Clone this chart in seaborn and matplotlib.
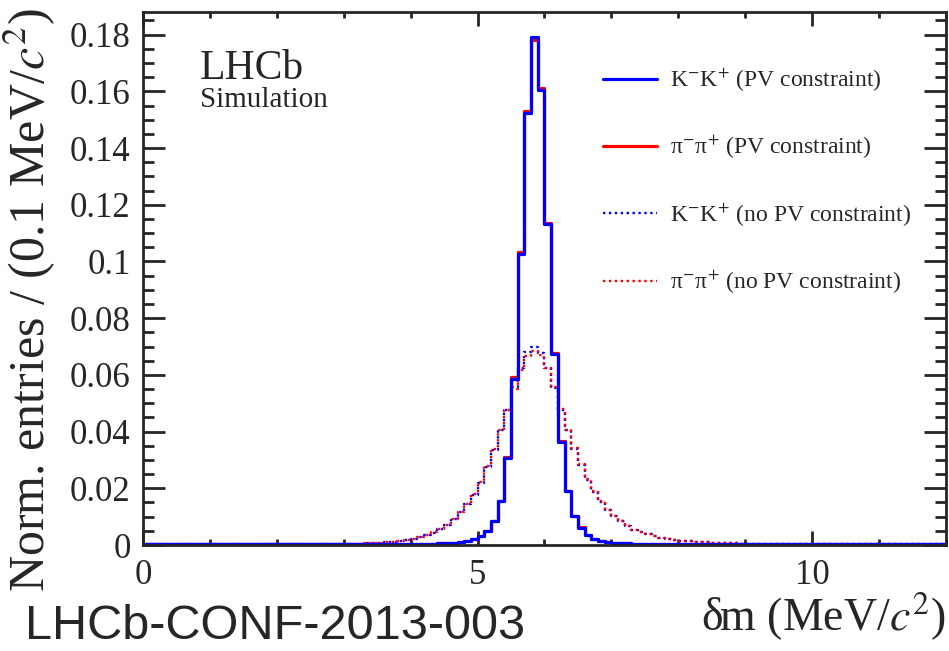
import numpy as np
import pandas as pd
import matplotlib
matplotlib.use("Agg")
import matplotlib.pyplot as plt
import seaborn as sns
from matplotlib.lines import Line2D
from matplotlib.ticker import MultipleLocator, FuncFormatter

# ---------------- data ----------------
x_min, x_max, bin_width = 0.0, 12.0, 0.1

kk_pv = [
    0.0003, 0.0003, 0.0003, 0.0003, 0.0003, 0.0003, 0.0003, 0.0003, 0.0003, 0.0003,
    0.0003, 0.0003, 0.0003, 0.0003, 0.0003, 0.0003, 0.0003, 0.0003, 0.0003, 0.0003,
    0.0003, 0.0003, 0.0003, 0.0003, 0.0003, 0.0003, 0.0003, 0.0003, 0.0003, 0.0003,
    0.0003, 0.0003, 0.0003, 0.0003, 0.0003, 0.0003, 0.0004, 0.0004, 0.0004, 0.0004,
    0.0004, 0.0004, 0.0005, 0.0005, 0.0006, 0.0007, 0.0008, 0.0010, 0.0014, 0.0021,
    0.0032, 0.0048, 0.0083, 0.0154, 0.0306, 0.0587, 0.1025, 0.1525, 0.1792, 0.1605,
    0.1131, 0.0674, 0.0364, 0.0191, 0.0102, 0.0061, 0.0036, 0.0022, 0.0015, 0.0010,
    0.0008, 0.0007, 0.0006, 0.0005, 0.0005, 0.0004, 0.0004, 0.0004, 0.0004, 0.0004,
    0.0003, 0.0003, 0.0003, 0.0003, 0.0003, 0.0003, 0.0003, 0.0003, 0.0003, 0.0003,
    0.0003, 0.0003, 0.0003, 0.0003, 0.0003, 0.0003, 0.0003, 0.0003, 0.0003, 0.0003,
    0.0003, 0.0003, 0.0003, 0.0003, 0.0003, 0.0003, 0.0003, 0.0003, 0.0003, 0.0003,
    0.0003, 0.0003, 0.0003, 0.0003, 0.0003, 0.0003, 0.0003, 0.0003, 0.0003, 0.0003,
]

pipi_pv = [
    0.0003, 0.0003, 0.0003, 0.0003, 0.0003, 0.0003, 0.0003, 0.0003, 0.0003, 0.0003,
    0.0003, 0.0003, 0.0003, 0.0003, 0.0003, 0.0003, 0.0003, 0.0003, 0.0003, 0.0003,
    0.0003, 0.0003, 0.0003, 0.0003, 0.0003, 0.0003, 0.0003, 0.0003, 0.0003, 0.0003,
    0.0003, 0.0003, 0.0003, 0.0003, 0.0003, 0.0003, 0.0004, 0.0004, 0.0004, 0.0004,
    0.0004, 0.0004, 0.0005, 0.0005, 0.0006, 0.0007, 0.0008, 0.0010, 0.0014, 0.0022,
    0.0033, 0.0049, 0.0085, 0.0156, 0.0309, 0.0592, 0.1035, 0.1530, 0.1780, 0.1612,
    0.1137, 0.0677, 0.0367, 0.0192, 0.0103, 0.0062, 0.0036, 0.0022, 0.0015, 0.0010,
    0.0008, 0.0007, 0.0006, 0.0005, 0.0005, 0.0004, 0.0004, 0.0004, 0.0004, 0.0004,
    0.0003, 0.0003, 0.0003, 0.0003, 0.0003, 0.0003, 0.0003, 0.0003, 0.0003, 0.0003,
    0.0003, 0.0003, 0.0003, 0.0003, 0.0003, 0.0003, 0.0003, 0.0003, 0.0003, 0.0003,
    0.0003, 0.0003, 0.0003, 0.0003, 0.0003, 0.0003, 0.0003, 0.0003, 0.0003, 0.0003,
    0.0003, 0.0003, 0.0003, 0.0003, 0.0003, 0.0003, 0.0003, 0.0003, 0.0003, 0.0003,
]

kk_nopv = [
    0.0003, 0.0003, 0.0003, 0.0003, 0.0003, 0.0003, 0.0003, 0.0003, 0.0003, 0.0003,
    0.0003, 0.0003, 0.0003, 0.0003, 0.0003, 0.0003, 0.0003, 0.0003, 0.0003, 0.0003,
    0.0003, 0.0003, 0.0003, 0.0003, 0.0003, 0.0003, 0.0003, 0.0003, 0.0003, 0.0003,
    0.0004, 0.0004, 0.0005, 0.0006, 0.0007, 0.0008, 0.0010, 0.0012, 0.0014, 0.0017,
    0.0021, 0.0027, 0.0035, 0.0044, 0.0056, 0.0071, 0.0091, 0.0116, 0.0143, 0.0178,
    0.0220, 0.0275, 0.0336, 0.0405, 0.0477, 0.0556, 0.0624, 0.0680, 0.0700, 0.0676,
    0.0624, 0.0553, 0.0477, 0.0404, 0.0339, 0.0282, 0.0230, 0.0188, 0.0153, 0.0124,
    0.0102, 0.0083, 0.0067, 0.0054, 0.0045, 0.0038, 0.0032, 0.0026, 0.0021, 0.0018,
    0.0015, 0.0013, 0.0011, 0.0010, 0.0009, 0.0008, 0.0007, 0.0006, 0.0006, 0.0005,
    0.0005, 0.0005, 0.0004, 0.0004, 0.0004, 0.0004, 0.0004, 0.0003, 0.0003, 0.0003,
    0.0003, 0.0003, 0.0003, 0.0003, 0.0003, 0.0003, 0.0003, 0.0003, 0.0003, 0.0003,
    0.0003, 0.0003, 0.0003, 0.0003, 0.0003, 0.0003, 0.0003, 0.0003, 0.0003, 0.0003,
]

pipi_nopv = [
    0.0003, 0.0003, 0.0003, 0.0003, 0.0003, 0.0003, 0.0003, 0.0003, 0.0003, 0.0003,
    0.0003, 0.0003, 0.0003, 0.0003, 0.0003, 0.0003, 0.0003, 0.0003, 0.0003, 0.0003,
    0.0003, 0.0003, 0.0003, 0.0003, 0.0003, 0.0003, 0.0003, 0.0003, 0.0003, 0.0003,
    0.0004, 0.0004, 0.0005, 0.0006, 0.0007, 0.0008, 0.0010, 0.0012, 0.0014, 0.0017,
    0.0021, 0.0027, 0.0035, 0.0045, 0.0057, 0.0072, 0.0092, 0.0117, 0.0145, 0.0180,
    0.0222, 0.0277, 0.0338, 0.0405, 0.0475, 0.0550, 0.0618, 0.0668, 0.0684, 0.0670,
    0.0626, 0.0556, 0.0480, 0.0407, 0.0341, 0.0284, 0.0232, 0.0190, 0.0155, 0.0125,
    0.0102, 0.0083, 0.0067, 0.0054, 0.0045, 0.0038, 0.0032, 0.0026, 0.0021, 0.0018,
    0.0015, 0.0013, 0.0011, 0.0010, 0.0009, 0.0008, 0.0007, 0.0006, 0.0006, 0.0005,
    0.0005, 0.0005, 0.0004, 0.0004, 0.0004, 0.0004, 0.0004, 0.0003, 0.0003, 0.0003,
    0.0003, 0.0003, 0.0003, 0.0003, 0.0003, 0.0003, 0.0003, 0.0003, 0.0003, 0.0003,
    0.0003, 0.0003, 0.0003, 0.0003, 0.0003, 0.0003, 0.0003, 0.0003, 0.0003, 0.0003,
]

series_labels = [
    r"K$^{-}$K$^{+}$ (PV constraint)",
    r"π$^{-}$π$^{+}$ (PV constraint)",
    r"K$^{-}$K$^{+}$ (no PV constraint)",
    r"π$^{-}$π$^{+}$ (no PV constraint)",
]

# ---------------- style ----------------
sns.set_style("ticks")
plt.rcParams["font.family"] = ["Liberation Serif", "DejaVu Serif"]
plt.rcParams["mathtext.fontset"] = "stix"
plt.rcParams["axes.linewidth"] = 2.0

edges = np.linspace(x_min, x_max, int(round((x_max - x_min) / bin_width)) + 1)
centers = 0.5 * (edges[:-1] + edges[1:])
edges_list = [float(e) for e in edges]

df = pd.DataFrame({
    "x": centers,
    "kk_pv": kk_pv,
    "pipi_pv": pipi_pv,
    "kk_nopv": kk_nopv,
    "pipi_nopv": pipi_nopv,
})

fig = plt.figure(figsize=(9.49, 6.51), dpi=100)
ax = fig.add_axes([0.1507, 0.1628, 0.8461, 0.8188])

BLUE = "#0000ff"
RED = "#ff0000"
dot_lw = 1.7
solid_lw = 2.3

styles = {
    "kk_nopv": dict(color=BLUE, linewidth=dot_lw, linestyle=(0, (1, 1.5))),
    "pipi_nopv": dict(color=RED, linewidth=dot_lw, linestyle=(1.25, (1, 1.5))),
    "pipi_pv": dict(color=RED, linewidth=solid_lw, linestyle="-"),
    "kk_pv": dict(color=BLUE, linewidth=solid_lw, linestyle="-"),
}
for col in ["kk_nopv", "pipi_nopv", "pipi_pv", "kk_pv"]:
    sns.histplot(data=df, x="x", weights=col, bins=edges_list, element="step",
                 fill=False, ax=ax, **styles[col])

ax.set_xlim(x_min, x_max)
ax.set_ylim(0, 0.188)

ax.xaxis.set_major_locator(MultipleLocator(5))
ax.xaxis.set_minor_locator(MultipleLocator(1))
ax.yaxis.set_major_locator(MultipleLocator(0.02))
ax.yaxis.set_minor_locator(MultipleLocator(0.005))
ax.yaxis.set_major_formatter(FuncFormatter(lambda v, p: f"{v:g}"))
ax.xaxis.set_major_formatter(FuncFormatter(lambda v, p: f"{v:g}"))

ax.tick_params(which="both", direction="in", top=True, right=True, width=2, labelsize=25)
ax.xaxis.set_tick_params(which="major", length=10, pad=10)
ax.xaxis.set_tick_params(which="minor", length=4.5)
ax.yaxis.set_tick_params(which="major", length=16, pad=9)
ax.yaxis.set_tick_params(which="minor", length=8)
for s in ax.spines.values():
    s.set_linewidth(2.0)

ax.set_ylabel(r"Norm. entries / (0.1 MeV/$c^{2}$)", fontsize=36, loc="top")
ax.yaxis.set_label_coords(-0.106, 1.006)
ax.set_xlabel(r"δm (MeV/$c^{2}$)", fontsize=33, loc="right")
ax.xaxis.set_label_coords(1.0, -0.085)

ax.text(0.071, 0.875, "LHCb", transform=ax.transAxes, fontsize=30, va="baseline")
ax.text(0.071, 0.822, "Simulation", transform=ax.transAxes, fontsize=21, va="baseline")

fig.text(0.026, 0.018, "LHCb-CONF-2013-003", fontsize=35,
         family=["Liberation Sans", "DejaVu Sans"], va="baseline")

handles = [
    Line2D([], [], **styles["kk_pv"]),
    Line2D([], [], **styles["pipi_pv"]),
    Line2D([], [], color=BLUE, linewidth=dot_lw, linestyle=(0, (1, 1.5))),
    Line2D([], [], color=RED, linewidth=dot_lw, linestyle=(0, (1, 1.5))),
]
ax.legend(handles, series_labels, loc="upper left", bbox_to_anchor=(0.561, 0.915),
          frameon=False, fontsize=17, handlelength=2.3, handletextpad=0.55,
          labelspacing=1.7, borderaxespad=0)

fig.savefig("out.png", dpi=100)
